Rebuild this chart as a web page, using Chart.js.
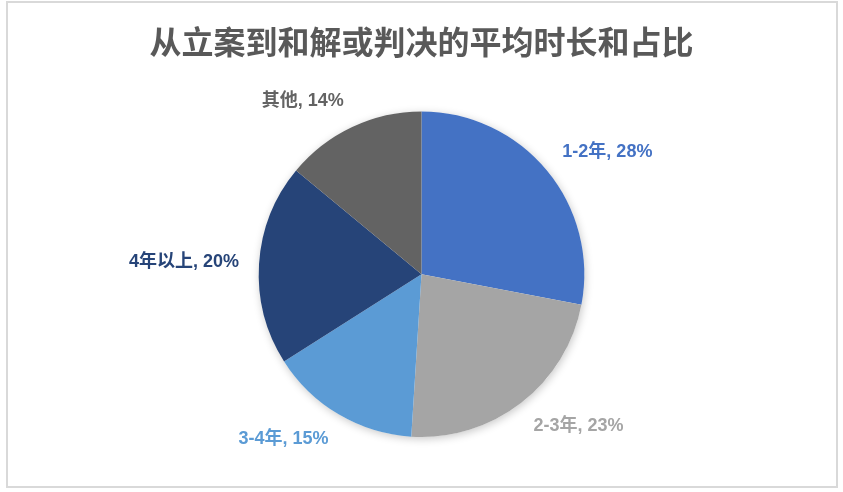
<!DOCTYPE html>
<html>
<head>
<meta charset="utf-8">
<script src="https://cdn.jsdelivr.net/npm/chart.js@4"></script>
<style>
  html, body { margin: 0; padding: 0; background: #fff; }
  #wrap { position: absolute; left: 0; top: 0; width: 843px; height: 492px; }
  #frame { position: absolute; left: 6px; top: 1px; width: 828px; height: 483px; border: 2px solid #d9d9d9; }
</style>
</head>
<body>
<div id="wrap">
  <div id="frame"></div>
  <canvas id="chart" width="843" height="492"></canvas>
</div>
<script>
const labels = ["1-2年", "2-3年", "3-4年", "4年以上", "其他"];
const shares = [28, 23, 15, 20, 14];
const colors = ["#4472C4", "#A5A5A5", "#5B9BD5", "#264478", "#636363"];
const title = "从立案到和解或判决的平均时长和占比";
const fontFamily = '"Liberation Sans", "Noto Sans CJK SC", sans-serif';

let ctx = document.getElementById("chart").getContext("2d");

// soft shadow behind the whole pie
const pieShadow = {
  id: "pieShadow",
  beforeDatasetsDraw(chart) {
    let arc = chart.getDatasetMeta(0).data[0];
    if (!arc) return;
    let c = chart.ctx;
    c.save();
    c.shadowColor = "rgba(0,0,0,0.22)";
    c.shadowBlur = 9;
    c.shadowOffsetX = 1;
    c.shadowOffsetY = 2;
    c.fillStyle = "#fff";
    c.beginPath();
    c.arc(arc.x, arc.y, arc.outerRadius, 0, Math.PI * 2);
    c.fill();
    c.restore();
  }
};

// data labels outside each slice, in the slice colour
const outsideLabels = {
  id: "outsideLabels",
  afterDatasetsDraw(chart) {
    let c = chart.ctx;
    let meta = chart.getDatasetMeta(0);
    c.save();
    c.font = "bold 18px " + fontFamily;
    c.textAlign = "center";
    c.textBaseline = "middle";
    meta.data.forEach((arc, i) => {
      let mid = (arc.startAngle + arc.endAngle) / 2;
      let dx = Math.cos(mid), dy = Math.sin(mid);
      let text = labels[i] + ", " + shares[i] + "%";
      let w = c.measureText(text).width;
      let h = 18;
      let r = arc.outerRadius + 20;
      let x = arc.x + dx * r + Math.sign(dx) * w / 2;
      let y = arc.y + dy * r + dy * h / 2;
      c.fillStyle = colors[i];
      c.fillText(text, x, y);
    });
    c.restore();
  }
};

const chart = new Chart(ctx, {
  type: "pie",
  data: {
    labels: labels,
    datasets: [
      {
        data: shares,
        backgroundColor: colors,
        borderWidth: 0
      }
    ]
  },
  options: {
    responsive: false,
    animation: false,
    layout: { padding: { top: 0, bottom: 55, left: 0, right: 0 } },
    plugins: {
      legend: { display: false },
      tooltip: { enabled: false },
      title: {
        display: true,
        text: title,
        color: "#595959",
        font: { size: 32, family: '"Noto Sans CJK SC", sans-serif', weight: "bold", lineHeight: 1.2 },
        padding: { top: 23, bottom: 50 }
      }
    }
  },
  plugins: [pieShadow, outsideLabels]
});
</script>
</body>
</html>
